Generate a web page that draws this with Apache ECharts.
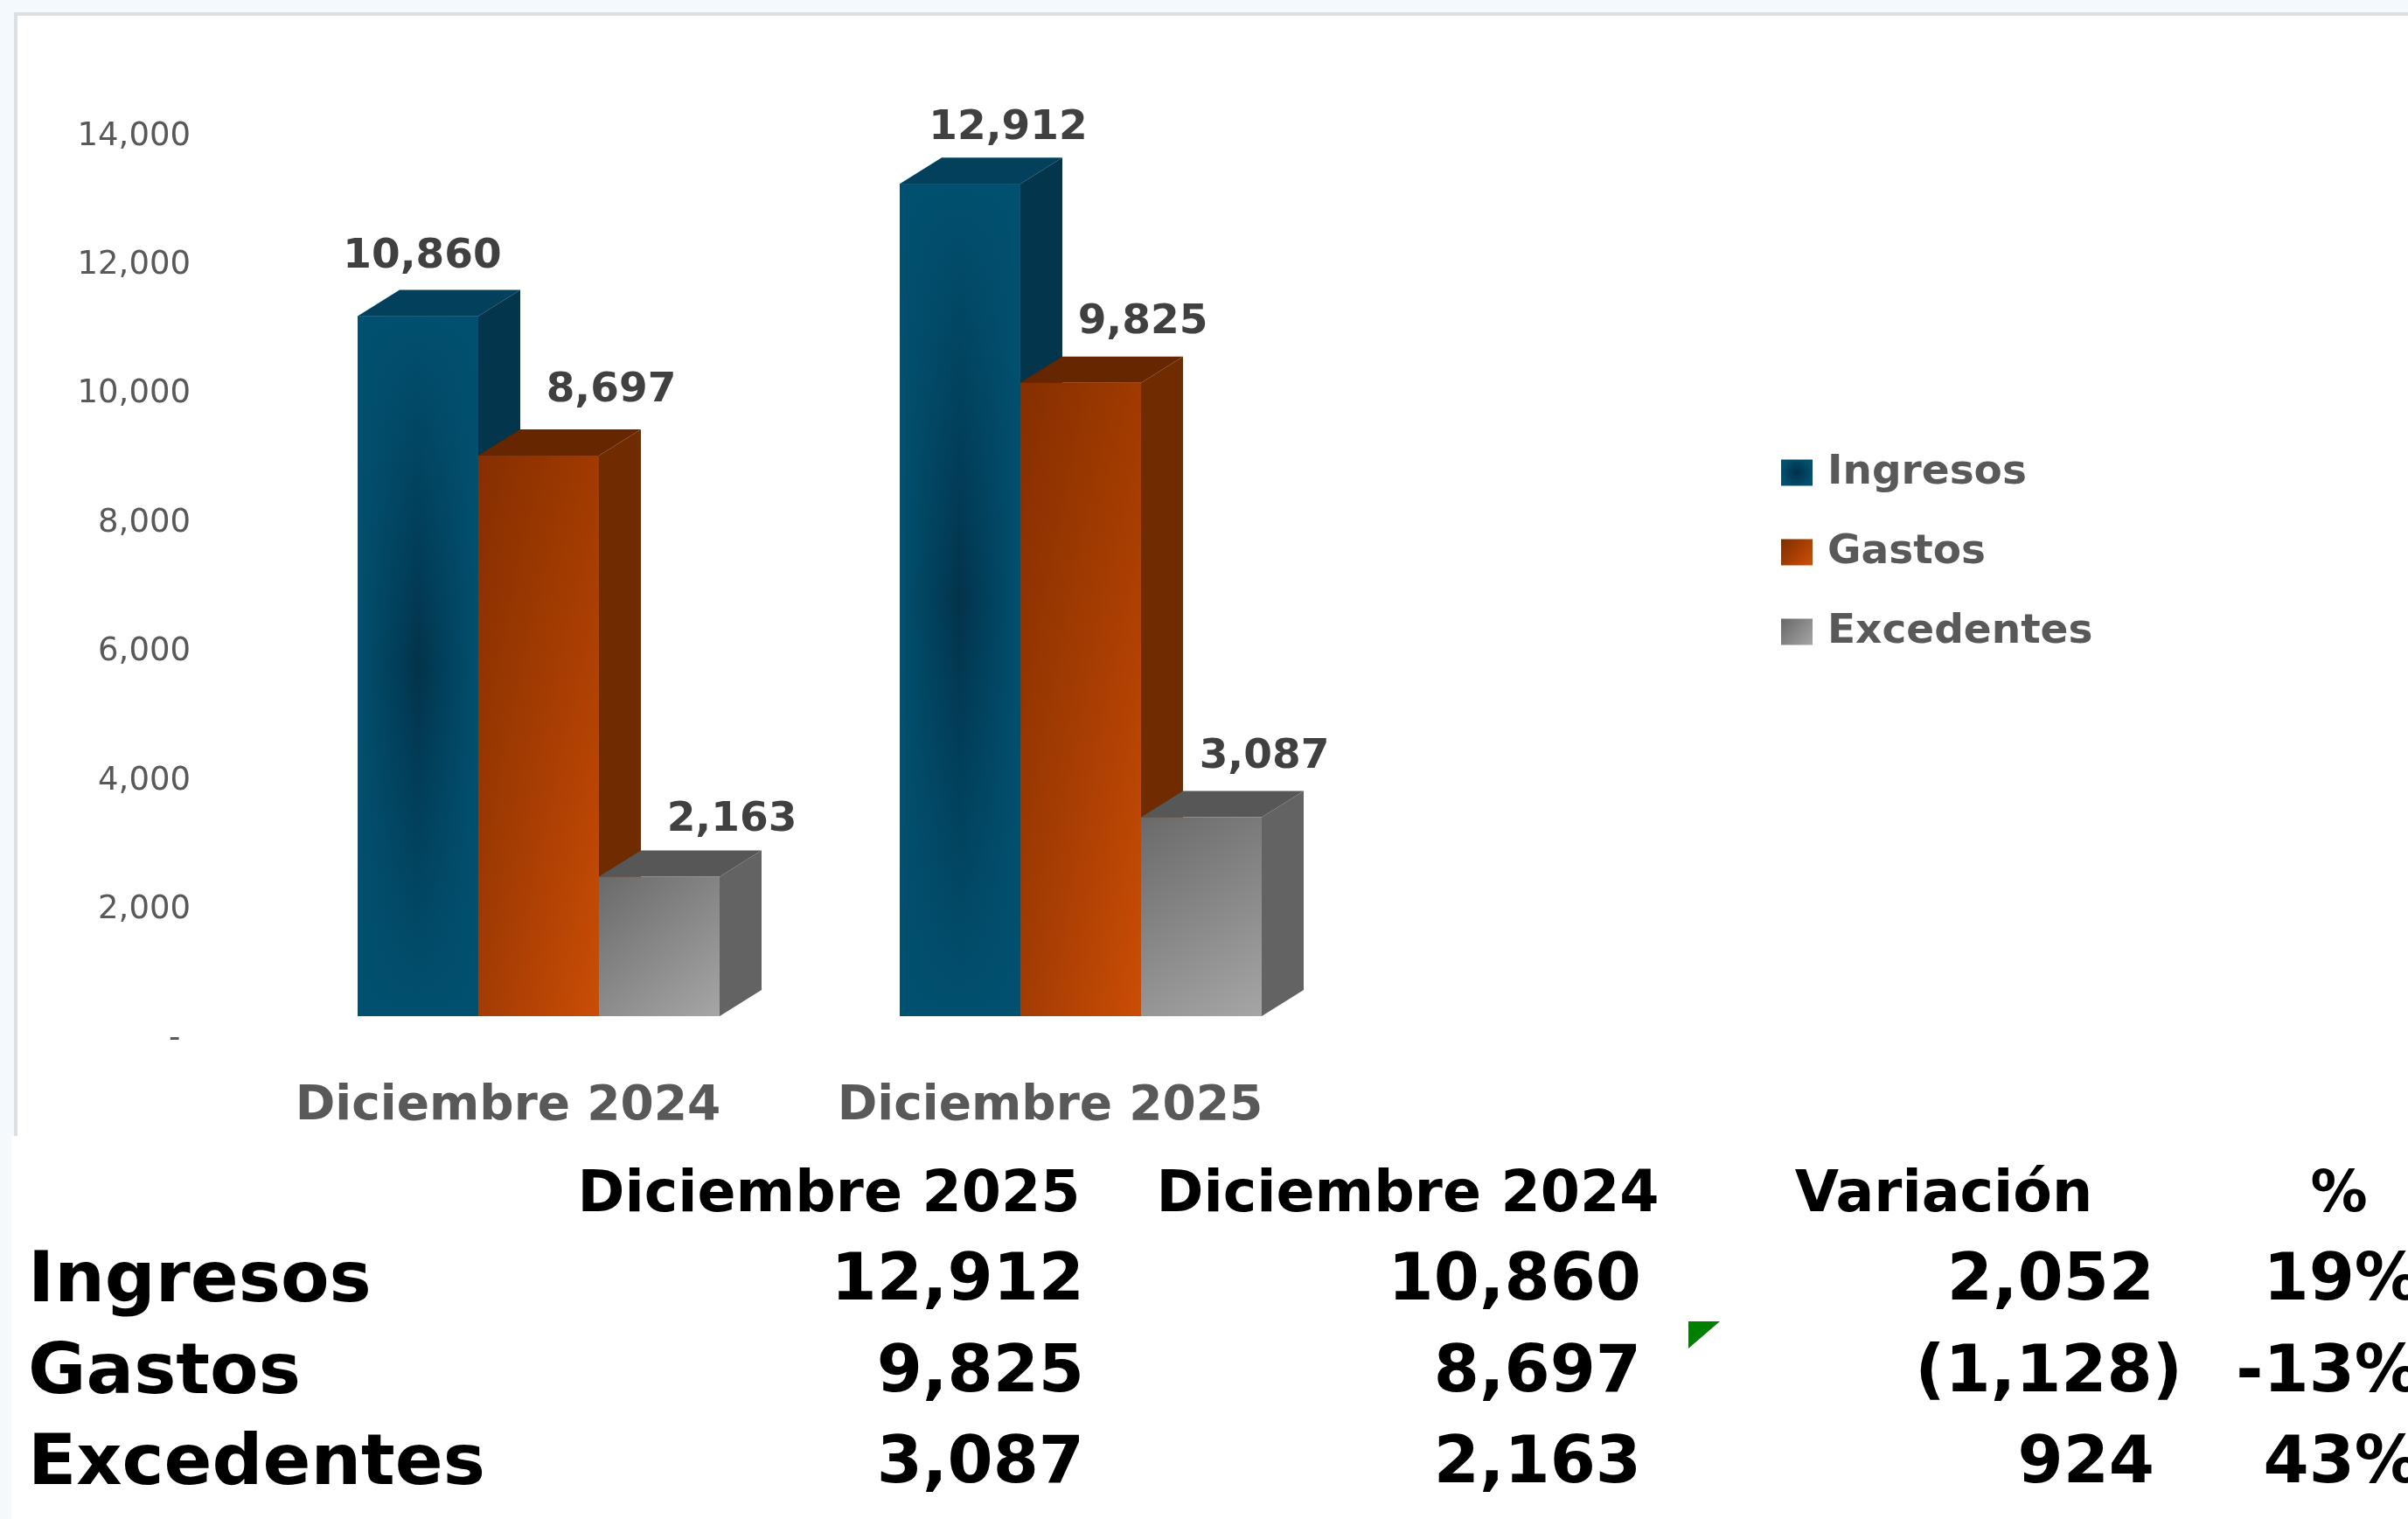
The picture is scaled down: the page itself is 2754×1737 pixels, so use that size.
<!DOCTYPE html>
<html>
<head>
<meta charset="utf-8">
<title>Ingresos, Gastos y Excedentes</title>
<script src="https://cdn.jsdelivr.net/npm/echarts@6/dist/echarts.min.js"></script>
<style>
  html, body { margin: 0; padding: 0; background: #fff; overflow: hidden; }
  #chart { width: 2754px; height: 1737px; }
</style>
</head>
<body>
<div id="chart"></div>
<script>
const categories = ["Diciembre 2024", "Diciembre 2025"];
const seriesNames = ["Ingresos", "Gastos", "Excedentes"];
const ingresos = [10860, 12912];
const gastos = [8697, 9825];
const excedentes = [2163, 3087];

// tabla inferior
const tableHeaders = ["Diciembre 2025", "Diciembre 2024", "Variación", "%"];
const variacion = [2052, -1128, 924];
const porcentaje = [19, -13, 43];

const FONT = '"DejaVu Sans"';
const BAR_WIDTH = 138;
const DEPTH_X = 48;
const DEPTH_Y = 30;

const linear = (x, y, x2, y2, from, to) => ({
  type: "linear", x, y, x2, y2,
  colorStops: [{ offset: 0, color: from }, { offset: 1, color: to }]
});

// caras de cada serie
const looks = [
  {
    front: {
      type: "linear", x: 0, y: 0, x2: 1, y2: 0,
      colorStops: [
        { offset: 0, color: "#01506f" },
        { offset: 0.5, color: "#02334b" },
        { offset: 1, color: "#01506f" }
      ]
    },
    // tapa el oscuro arriba y abajo, queda solo en el centro de la barra
    fade: {
      type: "linear", x: 0, y: 0, x2: 0, y2: 1,
      colorStops: [
        { offset: 0, color: "rgba(1,80,111,1)" },
        { offset: 0.5, color: "rgba(1,80,111,0)" },
        { offset: 1, color: "rgba(1,80,111,1)" }
      ]
    },
    top: "#03405c",
    side: "#03354d",
    legend: { type: "radial", x: 0.5, y: 0.5, r: 0.6, colorStops: [{ offset: 0, color: "#02304a" }, { offset: 1, color: "#01506f" }] }
  },
  {
    front: linear(0, 0, 0, 1, "#a03a00", "#cb4d05"),
    // mas oscuro a la izquierda
    fade: linear(0, 0, 1, 0, "rgba(80,25,0,0.33)", "rgba(80,25,0,0)"),
    top: "#662700",
    side: "#702b00",
    legend: linear(0, 0, 1, 1, "#7d2e00", "#cf4f05")
  },
  {
    front: linear(0, 0, 1, 1, "#6a6a6a", "#a6a6a6"),
    top: "#575757",
    side: "#636363",
    legend: linear(0, 0, 1, 1, "#686868", "#a6a6a6")
  }
];

// posicion de las etiquetas: [dx desde el centro de la barra, dy sobre la tapa]
const labelNudge = [
  [[5, 38], [55, 33]],
  [[83, 44], [71, 39]],
  [[83, 35], [72, 39]]
];

const fmt = (v) => v.toLocaleString("en-US");

function renderBar(seriesIndex) {
  return (params, api) => {
    const cat = api.value(0);
    const val = api.value(1);
    const [cx, y] = api.coord([cat, val]);
    const [, y0] = api.coord([cat, 0]);
    const x = cx - BAR_WIDTH * 1.5 + seriesIndex * BAR_WIDTH;
    const r = x + BAR_WIDTH;
    const look = looks[seriesIndex];
    const nudge = labelNudge[seriesIndex][params.dataIndex];
    const children = [
      {
        type: "polygon",
        shape: { points: [[x, y], [x + DEPTH_X, y - DEPTH_Y], [r + DEPTH_X, y - DEPTH_Y], [r, y]] },
        style: { fill: look.top }
      },
      {
        type: "polygon",
        shape: { points: [[r, y], [r + DEPTH_X, y - DEPTH_Y], [r + DEPTH_X, y0 - DEPTH_Y], [r, y0]] },
        style: { fill: look.side }
      },
      {
        type: "rect",
        shape: { x, y, width: BAR_WIDTH, height: y0 - y },
        style: { fill: look.front }
      }
    ];
    if (look.fade) {
      children.push({
        type: "rect",
        shape: { x, y, width: BAR_WIDTH, height: y0 - y },
        style: { fill: look.fade }
      });
    }
    children.push({
      type: "text",
      style: {
        x: x + BAR_WIDTH / 2 + nudge[0],
        y: y - DEPTH_Y - nudge[1],
        text: fmt(val),
        fill: "#404040",
        font: "bold 47px " + FONT,
        align: "center",
        verticalAlign: "middle"
      }
    });
    return { type: "group", children };
  };
}

const allValues = [ingresos, gastos, excedentes];
const series = seriesNames.map((name, s) => ({
  name,
  type: "custom",
  renderItem: renderBar(s),
  itemStyle: { color: looks[s].side },
  encode: { x: 0, y: 1 },
  data: allValues[s].map((v, i) => [i, v])
}));

// tabla como texto real
const headerX = [948, 1610, 2223, 2675];
const columnRight = [1240, 1877, 2464, 2768];
const rowY = [1467, 1572, 1676];
const graphics = [
  { type: "rect", z: -2, shape: { x: 18, y: 16, width: 2760, height: 1286 }, style: { fill: "#fff", stroke: "#dcdfe2", lineWidth: 4 } },
  { type: "rect", z: -1, shape: { x: 13, y: 1299, width: 2741, height: 438 }, style: { fill: "#fff" } },
  { type: "polygon", shape: { points: [[1931, 1511], [1967, 1511], [1931, 1542]] }, style: { fill: "#008000" } }
];
const addText = (text, x, y, size, align) => graphics.push({
  type: "text",
  style: { text, x, y, fill: "#000", font: "bold " + size + "px " + FONT, align, verticalAlign: "middle" }
});
tableHeaders.forEach((h, i) => addText(h, headerX[i], 1368, 65, "center"));
seriesNames.forEach((name, i) => {
  const y = rowY[i];
  addText(name, 32, y, 81, "left");
  addText(fmt(allValues[i][1]), columnRight[0], y, 75, "right");
  addText(fmt(allValues[i][0]), columnRight[1], y, 75, "right");
  const v = variacion[i];
  if (v < 0) addText("(" + fmt(-v) + ")", columnRight[2] + 32, y, 75, "right");
  else addText(fmt(v), columnRight[2], y, 75, "right");
  addText(porcentaje[i] + "%", columnRight[3], y, 75, "right");
});

const chart = echarts.init(document.getElementById("chart"));
chart.setOption({
  animation: false,
  backgroundColor: "#f4f9fd",
  // la segunda rejilla solo lleva las etiquetas del eje, algo mas abajo que las barras
  grid: [
    { left: 306, top: 130, width: 1240, height: 1032 },
    { left: 306, top: 156, width: 1240, height: 1032 }
  ],
  xAxis: [
    {
      type: "category",
      gridIndex: 0,
      data: categories,
      axisLine: { show: false },
      axisTick: { show: false },
      axisLabel: {
        interval: 0,
        margin: 76,
        padding: [0, 70, 0, 0],
        color: "#595959",
        fontFamily: FONT,
        fontWeight: "bold",
        fontSize: 55
      }
    },
    { type: "category", gridIndex: 1, data: categories, show: false }
  ],
  yAxis: [
    {
      type: "value",
      gridIndex: 0,
      min: 0,
      max: 14000,
      interval: 2000,
      show: false
    },
    {
      type: "value",
      gridIndex: 1,
      min: 0,
      max: 14000,
      interval: 2000,
      axisLine: { show: false },
      axisTick: { show: false },
      splitLine: { show: false },
      axisLabel: {
        margin: 88,
        color: "#595959",
        fontFamily: FONT,
        fontSize: 37,
        formatter: (v) => (v === 0 ? "- " : fmt(v))
      }
    }
  ],
  legend: {
    orient: "vertical",
    left: 2032,
    top: 512,
    itemWidth: 36,
    itemHeight: 30,
    itemGap: 44,
    icon: "rect",
    selectedMode: false,
    textStyle: {
      color: "#595959",
      fontFamily: FONT,
      fontWeight: "bold",
      fontSize: 47,
      lineHeight: 30,
      padding: [0, 0, 0, 12]
    },
    data: seriesNames.map((name, s) => ({ name, itemStyle: { color: looks[s].legend } }))
  },
  graphic: graphics,
  series
});
</script>
</body>
</html>
